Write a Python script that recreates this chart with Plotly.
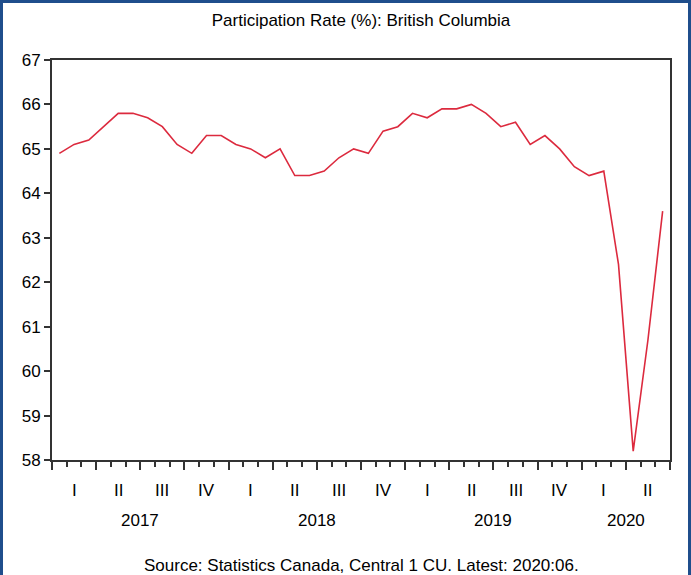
import plotly.graph_objects as go

# ---- data ----
years = ["2017", "2018", "2019", "2020"]
quarter_names = ["I", "II", "III", "IV"]
months = [f"{y}:{m:02d}" for y in years for m in range(1, 13)][:42]  # 2017:01 .. 2020:06
rate = [
    64.9, 65.1, 65.2, 65.5, 65.8, 65.8, 65.7, 65.5, 65.1, 64.9, 65.3, 65.3,   # 2017
    65.1, 65.0, 64.8, 65.0, 64.4, 64.4, 64.5, 64.8, 65.0, 64.9, 65.4, 65.5,   # 2018
    65.8, 65.7, 65.9, 65.9, 66.0, 65.8, 65.5, 65.6, 65.1, 65.3, 65.0, 64.6,   # 2019
    64.4, 64.5, 62.4, 58.2, 60.7, 63.6,                                       # 2020
]
y_ticks = [58, 59, 60, 61, 62, 63, 64, 65, 66, 67]

title_text = "Participation Rate (%): British Columbia"
source_text = "Source: Statistics Canada, Central 1 CU. Latest: 2020:06."

# ---- derived positions ----
n = len(months)
xs = list(range(n))
month_bounds = [i - 0.5 for i in range(n + 1)]
quarter_bounds = [b for i, b in enumerate(month_bounds) if i % 3 == 0]
quarter_centers = [q * 3 + 1 for q in range(n // 3)]
quarter_labels = [quarter_names[q % 4] for q in range(n // 3)]
year_centers = []
for yi, yr in enumerate(years):
    idx = [i for i, m in enumerate(months) if m.startswith(yr)]
    year_centers.append((idx[0] + idx[-1]) / 2)

FONT = "Liberation Sans, Arial, sans-serif"
AX = "#333333"
W, H = 691, 575
L, R, T, B = 52, 21, 60, 115

fig = go.Figure()
fig.add_trace(go.Scatter(
    x=xs, y=rate, mode="lines", text=months,
    line=dict(color="#DC2A3E", width=1.6),
    hovertemplate="%{text}: %{y}<extra></extra>",
))

fig.update_layout(
    width=W, height=H,
    margin=dict(l=L, r=R, t=T, b=B),
    paper_bgcolor="white", plot_bgcolor="white",
    showlegend=False,
    font=dict(family=FONT, size=17, color="black"),
    title=dict(text=title_text, x=0.5, xref="paper", xanchor="center",
               y=1 - 20 / H, yref="container", yanchor="middle",
               font=dict(family=FONT, size=17, color="black")),
    xaxis=dict(
        range=[-0.5, n - 0.5],
        tickmode="array", tickvals=quarter_bounds, showticklabels=False,
        ticks="outside", ticklen=8, tickwidth=1.5, tickcolor=AX,
        minor=dict(tickmode="array", tickvals=month_bounds, ticks="outside",
                   ticklen=5, tickwidth=1.5, tickcolor=AX),
        showline=True, linecolor=AX, linewidth=2, mirror=True,
        showgrid=False, zeroline=False, fixedrange=True,
    ),
    yaxis=dict(
        range=[58, 67], tickmode="array", tickvals=y_ticks,
        ticks="outside", ticklen=6, tickwidth=1.5, tickcolor=AX,
        tickfont=dict(family=FONT, size=17, color="black"),
        showline=True, linecolor=AX, linewidth=2, mirror=True,
        showgrid=False, zeroline=False, fixedrange=True,
    ),
)

# quarter and year labels
for xc, lab in zip(quarter_centers, quarter_labels):
    fig.add_annotation(x=xc, y=0, xref="x", yref="paper", text=lab,
                       showarrow=False, yanchor="middle", yshift=-30,
                       font=dict(family=FONT, size=17, color="black"))
for xc, lab in zip(year_centers, years):
    fig.add_annotation(x=xc, y=0, xref="x", yref="paper", text=lab,
                       showarrow=False, yanchor="middle", yshift=-60,
                       font=dict(family=FONT, size=17, color="black"))

# source note
fig.add_annotation(x=0.5, y=0, xref="paper", yref="paper", text=source_text,
                   showarrow=False, yanchor="middle", yshift=-105,
                   font=dict(family=FONT, size=17, color="black"))

# outer blue frame (left, top, right)
pw, ph = W - L - R, H - T - B
fig.add_shape(type="rect", xref="paper", yref="paper",
              x0=-L / pw, x1=(W - L) / pw, y0=-(B + 20) / ph, y1=(H - B) / ph,
              line=dict(color="#1F4E8C", width=6), fillcolor="rgba(0,0,0,0)",
              layer="above")

fig.write_html(
    "out.html",
    config={"displayModeBar": False},
    post_script="document.body.style.margin='0';document.body.style.padding='0';"
                "document.body.style.overflow='hidden';",
)
